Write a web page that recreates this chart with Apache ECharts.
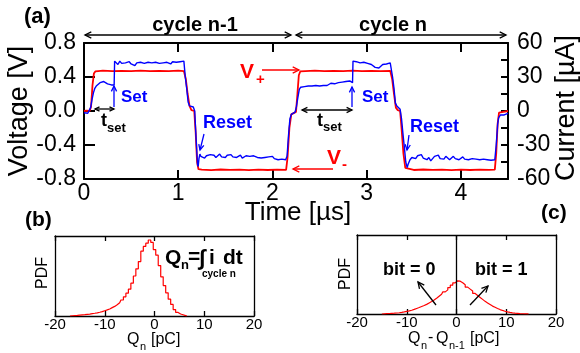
<!DOCTYPE html>
<html>
<head>
<meta charset="utf-8">
<script src="https://cdn.jsdelivr.net/npm/echarts@6/dist/echarts.min.js"></script>
<style>html,body{margin:0;padding:0;background:#fff}#c{width:580px;height:353px}</style>
</head>
<body>
<div id="c"></div>
<script>
// ---------- DATA ----------
const timeTicks = [0, 1, 2, 3, 4];
const voltageTicks = [-0.8, -0.4, 0.0, 0.4, 0.8];
const currentTicks = [-60, -30, 0, 30, 60];
const histTicks = [-20, -10, 0, 10, 20];

// red: applied voltage [V] vs time [us]
const voltageRed = [
 [0,0],[0.03,0.005],[0.06,0],[0.075,0.05],[0.09,0.3],[0.105,0.44],[0.12,0.465],[0.15,0.47],[0.2,0.475],[0.3,0.468],[0.4,0.472],[0.5,0.47],[0.6,0.476],[0.7,0.469],[0.8,0.473],[0.9,0.47],[1.0,0.474],[1.06,0.47],
 [1.08,0.38],[1.1,0.2],[1.12,0.06],[1.14,0.01],[1.17,0],[1.185,-0.25],[1.2,-0.6],[1.215,-0.685],[1.25,-0.69],[1.35,-0.695],[1.45,-0.688],[1.55,-0.693],[1.65,-0.69],[1.75,-0.696],[1.85,-0.689],[1.95,-0.694],[2.05,-0.69],[2.145,-0.692],
 [2.16,-0.55],[2.18,-0.2],[2.2,-0.04],[2.25,-0.01],[2.265,0.2],[2.28,0.42],[2.295,0.465],[2.35,0.47],[2.45,0.476],[2.55,0.469],[2.65,0.473],[2.75,0.47],[2.85,0.475],[2.95,0.468],[3.05,0.472],[3.15,0.47],[3.25,0.473],
 [3.27,0.38],[3.29,0.2],[3.31,0.04],[3.33,0.01],[3.355,0],[3.37,-0.2],[3.39,-0.5],[3.41,-0.67],[3.425,-0.69],[3.5,-0.694],[3.6,-0.688],[3.7,-0.693],[3.8,-0.69],[3.9,-0.696],[4.0,-0.689],[4.1,-0.694],[4.2,-0.69],[4.3,-0.693],[4.36,-0.69],
 [4.375,-0.5],[4.39,-0.15],[4.405,-0.02],[4.45,-0.01],[4.5,0]
];

// blue: measured current [uA] vs time [us]
const currentBlue = [
 [0,-1.5],[0.02,-1],[0.04,-2],[0.06,-1.5],[0.07,3],[0.085,10],[0.1,16],[0.115,20],[0.13,22],[0.15,23.5],[0.17,25],[0.19,24.5],[0.21,26],[0.23,25],[0.25,24],[0.27,24.5],[0.29,23],[0.31,23.5],[0.32,23],[0.325,44],
 [0.34,43],[0.36,41],[0.38,44],[0.40,42],[0.42,40.5],[0.44,42.5],[0.46,41],[0.48,43.5],[0.50,41.5],[0.52,42],[0.54,40],[0.56,42.5],[0.58,41],[0.60,43],[0.62,41.5],[0.64,42],[0.66,40.5],[0.68,43],[0.70,41.5],[0.72,42.5],[0.74,41],[0.76,43],[0.78,41.5],[0.80,42],[0.82,40.5],[0.84,42.5],[0.86,41.5],[0.88,43],[0.90,42],[0.92,41.5],[0.94,43.5],[0.96,42],[0.98,43],[1.00,41.5],[1.02,43.5],[1.04,42.5],[1.06,44],
 [1.075,30],[1.09,20],[1.105,8],[1.12,4.5],[1.14,4],[1.16,3.5],[1.175,0],[1.19,-25],[1.205,-47],[1.212,-49],[1.22,-42],[1.23,-38],
 [1.24,-40],[1.26,-39],[1.28,-41.5],[1.30,-39.5],[1.32,-40.5],[1.34,-38.5],[1.36,-40],[1.38,-39],[1.40,-41],[1.42,-39.5],[1.44,-38],[1.46,-40.5],[1.48,-39.5],[1.50,-41],[1.52,-39],[1.54,-40],[1.56,-38.5],[1.58,-40.5],[1.60,-39.5],[1.62,-41],[1.64,-40],[1.66,-39],[1.68,-41.5],[1.70,-40],[1.72,-39.5],[1.74,-41],[1.76,-40],[1.78,-41.5],[1.80,-39.5],[1.82,-40.5],[1.84,-41],[1.86,-39.5],[1.88,-41.5],[1.90,-40.5],[1.92,-41],[1.94,-42],[1.96,-40.5],[1.98,-41.5],[2.00,-40],[2.02,-42],[2.04,-41],[2.06,-43],[2.08,-41.5],[2.10,-42.5],[2.12,-41.5],[2.14,-43],
 [2.155,-40],[2.17,-22],[2.185,-7],[2.2,-3],[2.22,-1.5],[2.24,-1],[2.255,4],[2.27,12],[2.285,19],[2.30,21],[2.32,22.5],
 [2.34,21.5],[2.36,23],[2.38,22],[2.40,23.5],[2.42,22],[2.44,21],[2.46,22.5],[2.48,23.5],[2.50,22],[2.52,23],[2.54,22.5],[2.56,24],[2.58,22.5],[2.60,23],[2.62,24.5],[2.64,23],[2.66,24],[2.68,23.5],[2.70,25],[2.72,24],[2.74,25.5],[2.76,24.5],[2.78,26],[2.80,25],[2.82,26.5],[2.84,25.5],[2.85,25],
 [2.855,44],[2.87,45],[2.89,43.5],[2.91,44.5],[2.93,42.5],[2.95,44],[2.97,43],[2.99,44.5],[3.01,42],[3.03,43.5],[3.05,41],[3.07,40],[3.09,38.5],[3.11,40],[3.13,38],[3.15,39.5],[3.17,41],[3.19,42.5],[3.21,41.5],[3.23,43],[3.25,42.5],[3.26,44],
 [3.275,30],[3.29,20],[3.305,7],[3.32,4.5],[3.34,3],[3.355,1.5],[3.37,-7],[3.385,-20],[3.40,-32],[3.415,-45],[3.43,-50],[3.44,-47],[3.46,-43],[3.48,-41],
 [3.50,-40],[3.52,-42],[3.54,-39.5],[3.56,-41],[3.58,-38.5],[3.60,-41.5],[3.62,-40],[3.64,-43],[3.66,-41],[3.68,-44],[3.70,-42.5],[3.72,-40],[3.74,-41.5],[3.76,-39],[3.78,-42],[3.80,-40.5],[3.82,-42.5],[3.84,-40],[3.86,-41],[3.88,-43],[3.90,-41.5],[3.92,-40],[3.94,-42],[3.96,-41],[3.98,-43],[4.00,-41.5],[4.02,-40.5],[4.04,-42.5],[4.06,-41],[4.08,-43],[4.10,-41.5],[4.12,-42],[4.14,-40.5],[4.16,-42.5],[4.18,-41],[4.20,-43],[4.22,-41.5],[4.24,-42.5],[4.26,-41],[4.28,-43],[4.30,-42],[4.32,-43.5],[4.34,-42],[4.36,-43],
 [4.375,-30],[4.39,-12],[4.40,-6],[4.42,-3.5],[4.44,-3],[4.46,-3.5],[4.48,-2.5],[4.5,-2]
];

// (b) PDF of Q_n  (bin centres [pC], relative height)
const qnBins = [-17,-16.5,-16,-15.5,-15,-14.5,-14,-13.5,-13,-12.5,-12,-11.5,-11,-10.5,-10,-9.5,-9,-8.5,-8,-7.5,-7,-6.5,-6,-5.5,-5,-4.5,-4,-3.5,-3,-2.5,-2,-1.5,-1,-0.5,0,0.5,1,1.5,2,2.5,3,3.5,4,4.5,5,5.5,6,6.5];
const qnPdf  = [0,0.3,0.5,0.7,1.0,1.3,1.6,2.0,2.4,2.9,3.4,4.0,4.7,5.5,6.6,7.6,8.8,10.5,12,14,16.5,20,24,28.5,33.5,41,50,59,68,81,87,91,95,92,83,76,63,49,38,29,21,14.5,8,4.5,2.5,1.5,0.5,0];

// (c) PDF of Q_n - Q_{n-1}
const dqBins = [-15,-14.5,-14,-13.5,-13,-12.5,-12,-11.5,-11,-10.5,-10,-9.5,-9,-8.5,-8,-7.5,-7,-6.5,-6,-5.5,-5,-4.5,-4,-3.5,-3,-2.5,-2,-1.5,-1,-0.5,0,0.5,1,1.5,2,2.5,3,3.5,4,4.5,5,5.5,6,6.5,7,7.5,8,8.5,9,9.5,10,10.5,11,11.5,12,12.5,13,13.5,14,14.5];
const dqPdf  = [0,0.2,0.4,0.6,0.8,1.0,1.3,1.6,2.0,2.6,3.3,4.0,4.8,5.8,7.0,8.2,9.5,10.8,12.2,14,15.8,17.7,20,22.5,25,28,30.5,33.5,36.5,39.5,42,41.5,39.5,37,34,31.5,29,26,23.5,21,18.5,16,14,12,10,8.5,7,5.6,4.5,3.5,2.6,2.0,1.5,1.1,0.8,0.5,0.3,0.2,0.1,0];

// ---------- CHART ----------
const FF = '"Liberation Sans", Arial, Helvetica, sans-serif';
const chart = echarts.init(document.getElementById('c'), null, {renderer: 'canvas'});

function zip(a, b) { return a.map((v, i) => [v, b[i]]); }

const BLK = '#000';
function xAx(grid, pos, min, max, interval, showLabel, fs, tickLen, lw, margin, fmt) {
  return {
    gridIndex: grid, type: 'value', position: pos, min: min, max: max, interval: interval,
    axisLine: {show: true, onZero: false, lineStyle: {color: BLK, width: lw}},
    axisTick: {show: true, inside: true, length: tickLen, lineStyle: {color: BLK, width: lw}},
    axisLabel: {show: showLabel, fontSize: fs, color: BLK, margin: margin, fontFamily: FF, formatter: fmt},
    splitLine: {show: false}
  };
}
function yAx(grid, pos, min, max, interval, showLabel, fs, tickLen, lw, margin, fmt, showTick) {
  return {
    gridIndex: grid, type: 'value', position: pos, min: min, max: max, interval: interval,
    axisLine: {show: true, onZero: false, lineStyle: {color: BLK, width: lw}},
    axisTick: {show: showTick, inside: true, length: tickLen, lineStyle: {color: BLK, width: lw}},
    axisLabel: {show: showLabel, fontSize: fs, color: BLK, margin: margin, fontFamily: FF, formatter: fmt},
    splitLine: {show: false}
  };
}
const intFmt = v => (Math.abs(v - Math.round(v)) < 1e-6 && timeTicks.indexOf(Math.round(v)) >= 0) ? String(Math.round(v)) : '';
const voltFmt = v => { if (Math.abs(v) < 1e-9) return '0.0'; return v.toFixed(1); };
const curFmt = v => currentTicks.indexOf(Math.round(v)) >= 0 ? String(Math.round(v)) : '';
const histFmt = v => histTicks.indexOf(Math.round(v)) >= 0 ? String(Math.round(v)) : '';

// ---- graphics helpers ----
const G = [];
function T(x, y, s, size, opt) {
  opt = opt || {};
  G.push({
    type: 'text', x: x, y: y, rotation: opt.rot || 0, silent: true, z: 100,
    style: {
      text: s, fontSize: size, fontWeight: opt.bold ? 'bold' : 'normal', fontFamily: FF,
      fill: opt.color || BLK,
      align: opt.align || 'left', textAlign: opt.align || 'left',
      verticalAlign: 'middle', textVerticalAlign: 'middle'
    }
  });
}
function L(x1, y1, x2, y2, color, lw) {
  G.push({type: 'line', silent: true, z: 100, shape: {x1, y1, x2, y2}, style: {stroke: color, lineWidth: lw}});
}
function head(xt, yt, xf, yf, color, lw, len) {
  const a = Math.atan2(yt - yf, xt - xf), h = len || 7, w = 0.45;
  G.push({type: 'polyline', silent: true, z: 100, shape: {points: [
    [xt - h * Math.cos(a - w), yt - h * Math.sin(a - w)], [xt, yt], [xt - h * Math.cos(a + w), yt - h * Math.sin(a + w)]
  ]}, style: {stroke: color, lineWidth: lw, fill: null}});
}
function arrow(x1, y1, x2, y2, color, lw, both, len) {
  L(x1, y1, x2, y2, color, lw);
  head(x2, y2, x1, y1, color, lw, len);
  if (both) head(x1, y1, x2, y2, color, lw, len);
}

const RED = '#ff0000', BLUE = '#0000ff';

// panel labels
T(24, 17, '(a)', 22, {bold: true});
T(25, 220, '(b)', 21, {bold: true});
T(541, 213, '(c)', 21, {bold: true});

// cycle labels and arrows
T(195, 25, 'cycle n-1', 20, {bold: true, align: 'center'});
T(393, 25, 'cycle n', 20, {bold: true, align: 'center'});
arrow(85, 35, 291, 35, BLK, 1.3, true, 7);
arrow(296, 35, 506, 35, BLK, 1.3, true, 7);

// axis titles main
T(20, 111, 'Voltage [V]', 27, {rot: Math.PI / 2, align: 'center'});
T(567, 108, 'Current [\u00b5A]', 27, {rot: Math.PI / 2, align: 'center'});
T(298, 213, 'Time [\u00b5s]', 26, {align: 'center'});

// V+ / V-
T(240, 72, 'V', 21, {bold: true, color: RED});
T(256, 80, '+', 15, {bold: true, color: RED});
arrow(262, 70, 299, 70, RED, 1.3, false, 7);
T(327, 158, 'V', 21, {bold: true, color: RED});
T(342, 165, '-', 15, {bold: true, color: RED});
arrow(333, 169, 293, 169, RED, 1.3, false, 7);

// Set / Reset
T(121, 97, 'Set', 17, {bold: true, color: BLUE});
arrow(114, 107, 114, 86, BLUE, 1.3, false, 6);
T(362, 97, 'Set', 17, {bold: true, color: BLUE});
arrow(352, 107, 352, 87, BLUE, 1.3, false, 6);
T(203, 123, 'Reset', 18, {bold: true, color: BLUE});
arrow(204, 134, 200, 150, BLUE, 1.3, false, 6);
T(410, 127, 'Reset', 18, {bold: true, color: BLUE});
arrow(409, 135, 407, 150, BLUE, 1.3, false, 6);

// t_set
arrow(95, 109, 114, 109, BLK, 1.3, true, 5);
T(101, 121, 't', 18, {bold: true});
T(107, 128, 'set', 13, {bold: true});
arrow(302, 110, 352, 110, BLK, 1.3, true, 6);
T(317, 121, 't', 18, {bold: true});
T(323, 127, 'set', 13, {bold: true});

// (b) labels
T(43, 273, 'PDF', 16, {rot: Math.PI / 2, align: 'center'});
T(127, 340, 'Q', 16);
T(140, 347, 'n', 11);
T(151, 340, '[pC]', 16);
T(165, 258, 'Q', 21, {bold: true});
T(181, 265, 'n', 13, {bold: true});
T(188, 257, '=', 21, {bold: true});
T(199, 259, '\u222b', 22, {bold: true});
T(209, 258, 'i', 21, {bold: true});
T(223, 258, 'dt', 21, {bold: true});
T(202, 274, 'cycle n', 10, {bold: true});

// (c) labels
T(346, 274, 'PDF', 16, {rot: Math.PI / 2, align: 'center'});
T(408, 339, 'Q', 16);
T(421, 346, 'n', 11);
T(428, 338, '-', 16);
T(436, 339, 'Q', 16);
T(449, 346, 'n-1', 11);
T(470, 339, '[pC]', 16);
T(383, 270, 'bit = 0', 18, {bold: true});
T(475, 270, 'bit = 1', 18, {bold: true});
arrow(436, 305, 418, 282, BLK, 1.3, false, 7);
arrow(470, 305, 488, 286, BLK, 1.3, false, 7);

const option = {
  animation: false,
  backgroundColor: '#fff',
  textStyle: {fontFamily: FF},
  grid: [
    {left: 84, top: 43, width: 424, height: 136},
    {left: 55, top: 236, width: 199, height: 80},
    {left: 357, top: 235, width: 199, height: 79}
  ],
  xAxis: [
    xAx(0, 'bottom', 0, 4.5, 1, true, 23, 9, 2, 3, intFmt),
    xAx(0, 'top', 0, 4.5, 1, false, 23, 9, 2, 3, intFmt),
    xAx(1, 'bottom', -20, 20, 10, true, 15, 5, 1.3, 1, histFmt),
    xAx(1, 'top', -20, 20, 10, false, 15, 5, 1.3, 1, histFmt),
    xAx(2, 'bottom', -20, 20, 10, true, 15, 5, 1.3, 1, histFmt),
    xAx(2, 'top', -20, 20, 10, false, 15, 5, 1.3, 1, histFmt)
  ],
  yAxis: [
    yAx(0, 'left', -0.8, 0.8, 0.4, true, 23, 11, 2, 8, voltFmt, true),
    yAx(0, 'right', -60, 60, 15, true, 23, 7, 2, 9, curFmt, true),
    yAx(1, 'left', 0, 100, 50, false, 12, 5, 1.3, 2, null, false),
    yAx(1, 'right', 0, 100, 50, false, 12, 5, 1.3, 2, null, false),
    yAx(2, 'left', 0, 100, 50, false, 12, 5, 1.3, 2, null, false),
    yAx(2, 'right', 0, 100, 50, false, 12, 5, 1.3, 2, null, false)
  ],
  series: [
    {type: 'line', xAxisIndex: 0, yAxisIndex: 0, data: voltageRed, showSymbol: false, symbol: 'none',
     lineStyle: {color: RED, width: 1.8}, z: 3},
    {type: 'line', xAxisIndex: 0, yAxisIndex: 1, data: currentBlue, showSymbol: false, symbol: 'none',
     lineStyle: {color: BLUE, width: 1.4}, z: 4},
    {type: 'line', xAxisIndex: 2, yAxisIndex: 2, data: zip(qnBins, qnPdf), step: 'middle', showSymbol: false, symbol: 'none',
     lineStyle: {color: RED, width: 1.2}},
    {type: 'line', xAxisIndex: 4, yAxisIndex: 4, data: zip(dqBins, dqPdf), step: 'middle', showSymbol: false, symbol: 'none',
     lineStyle: {color: RED, width: 1.2},
     markLine: {silent: true, symbol: ['none', 'none'], label: {show: false},
       lineStyle: {color: BLK, type: 'solid', width: 1.3}, data: [{xAxis: 0}]}}
  ],
  graphic: G
};
chart.setOption(option);
</script>
</body>
</html>
